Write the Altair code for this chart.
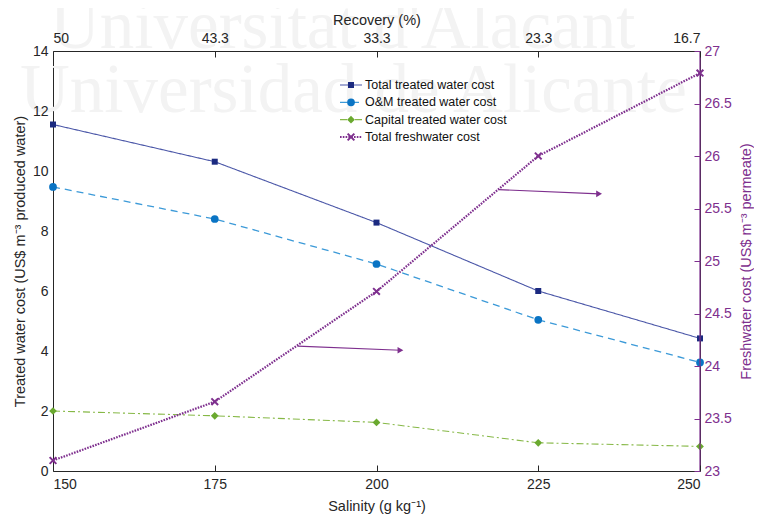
import altair as alt
import pandas as pd

# ---------------- data ----------------
salinity = [150, 175, 200, 225, 250]
recovery = ["50", "43.3", "33.3", "23.3", "16.7"]
total_treated = [11.55, 10.31, 8.28, 6.00, 4.42]
om_treated = [9.47, 8.40, 6.90, 5.04, 3.62]
capital_treated = [2.00, 1.84, 1.62, 0.94, 0.82]
freshwater = [23.10, 23.66, 24.71, 26.00, 26.79]

series_names = [
    "Total treated water cost",
    "O&M treated water cost",
    "Capital treated water cost",
    "Total freshwater cost",
]

# annotation arrows (salinity, freshwater-cost units)
arrow_x = [187.8, 218.9]
arrow_y = [24.19, 25.68]
arrow_x2 = [203.7, 234.4]
arrow_y2 = [24.15, 25.64]

left_ticks = [0, 2, 4, 6, 8, 10, 12, 14]
right_ticks = [23, 23.5, 24, 24.5, 25, 25.5, 26, 26.5, 27]
watermark = ["Universitat d'Alacant", "Universidad de Alicante"]

# ---------------- styles ----------------
PURPLE = "#7E2F8E"
INK = "#262626"
FONT = "Liberation Sans"
XPATH = "M-1,-1L1,1M-1,1L1,-1"
WM = "#F3F3F3"

styles = [
    dict(line="#4B57A8", mark="#1B2A80", dash=[1, 0], width=1.1, shape="square", size=36, filled=True),
    dict(line="#3C9AD8", mark="#0A74C4", dash=[7, 5], width=1.3, shape="circle", size=60, filled=True),
    dict(line="#86B846", mark="#6AA92F", dash=[7, 3, 2, 3], width=1.1, shape="diamond", size=60, filled=True),
    dict(line=PURPLE, mark=PURPLE, dash=[1.6, 1.2], width=2.2, shape=XPATH, size=45, filled=False),
]

xscale = alt.Scale(domain=[150, 250], nice=False, zero=False)
yleft_scale = alt.Scale(domain=[0, 14], nice=False, zero=False)
yright_scale = alt.Scale(domain=[23, 27], nice=False, zero=False)

x_bottom_axis = alt.Axis(
    values=salinity, title="Salinity (g kg⁻¹)", orient="bottom", domain=False,
    tickSize=6, offset=-6, tickColor=INK, labelColor=INK, titleColor=INK,
    labelPadding=6, titlePadding=8, grid=False, format="d", zindex=1,
)
label_expr = ""
for s, r in zip(salinity, recovery):
    label_expr += f"datum.value == {s} ? '{r}' : "
label_expr += "''"
x_top_axis = alt.Axis(
    values=salinity, title="Recovery (%)", orient="top", domain=False,
    tickSize=6, offset=-6, tickColor=INK, labelColor=INK, titleColor=INK,
    labelPadding=6, titlePadding=4, grid=False, labelExpr=label_expr, zindex=1,
)
y_left_axis = alt.Axis(
    values=left_ticks, title="Treated water cost (US$ m⁻³ produced water)", orient="left",
    domain=False, ticks=False, labelColor=INK, titleColor=INK, labelPadding=5,
    titlePadding=5, grid=False, format="d", zindex=1,
)
y_right_axis = alt.Axis(
    values=right_ticks, title="Freshwater cost (US$ m⁻³ permeate)", orient="right",
    domain=False, tickSize=6, offset=-6, tickColor=PURPLE, labelColor=PURPLE,
    titleColor=PURPLE, labelPadding=4, titlePadding=22, grid=False, format="~g",
    titleAngle=270, zindex=1,
)

# ---------------- series layers ----------------
series_values = [total_treated, om_treated, capital_treated]
left_layers = []
for name, vals, st in zip(series_names[:3], series_values, styles[:3]):
    df = pd.DataFrame({"salinity": salinity, "value": vals, "series": name})
    enc = dict(
        x=alt.X("salinity:Q", scale=xscale, axis=x_bottom_axis),
        y=alt.Y("value:Q", scale=yleft_scale, axis=y_left_axis),
    )
    left_layers.append(
        alt.Chart(df).mark_line(color=st["line"], strokeDash=st["dash"], strokeWidth=st["width"]).encode(**enc)
    )
    left_layers.append(
        alt.Chart(df).mark_point(shape=st["shape"], filled=True, color=st["mark"], size=st["size"], opacity=1).encode(**enc)
    )
left_group = alt.layer(*left_layers)

st = styles[3]
df_f = pd.DataFrame({"salinity": salinity, "value": freshwater})
enc_r = dict(
    x=alt.X("salinity:Q", scale=xscale, axis=x_top_axis),
    y=alt.Y("value:Q", scale=yright_scale, axis=y_right_axis),
)
fresh_line = alt.Chart(df_f).mark_line(color=st["line"], strokeDash=st["dash"], strokeWidth=st["width"]).encode(**enc_r)
fresh_pts = alt.Chart(df_f).mark_point(shape=XPATH, filled=False, color=PURPLE, size=st["size"], strokeWidth=2, opacity=1).encode(**enc_r)

df_arrow = pd.DataFrame({"x": arrow_x, "y": arrow_y, "x2": arrow_x2, "y2": arrow_y2})
arrow_lines = alt.Chart(df_arrow).mark_rule(color=PURPLE, strokeWidth=1.2).encode(
    x=alt.X("x:Q", scale=xscale, axis=x_top_axis),
    y=alt.Y("y:Q", scale=yright_scale, axis=y_right_axis),
    x2="x2:Q", y2="y2:Q",
)
arrow_heads = alt.Chart(df_arrow).mark_point(shape="triangle-right", filled=True, color=PURPLE, size=45, opacity=1).encode(
    x=alt.X("x2:Q", scale=xscale, axis=x_top_axis),
    y=alt.Y("y2:Q", scale=yright_scale, axis=y_right_axis),
)
right_frame = alt.Chart(pd.DataFrame({"a": [0]})).mark_rule(color=PURPLE, strokeWidth=1.2).encode(
    x=alt.datum(salinity[-1], scale=xscale, axis=x_top_axis)
)
right_group = alt.layer(right_frame, fresh_line, fresh_pts, arrow_lines, arrow_heads)

# ---------------- legend ----------------
legend_scale = alt.Scale(domain=[0, 3], range=[34, 86])
legend_layers = []
for i, (name, st) in enumerate(zip(series_names, styles)):
    dfl = pd.DataFrame({"row": [i], "series": [name]})
    ly = alt.Y("row:Q", scale=legend_scale, axis=None)
    legend_layers.append(
        alt.Chart(dfl).mark_rule(color=st["line"], strokeDash=st["dash"], strokeWidth=st["width"]).encode(
            x=alt.value(287), x2=alt.value(309), y=ly)
    )
    legend_layers.append(
        alt.Chart(dfl).mark_point(shape=st["shape"], filled=st["filled"], color=st["mark"], size=st["size"],
                                  strokeWidth=2, opacity=1).encode(x=alt.value(298), y=ly)
    )
    legend_layers.append(
        alt.Chart(dfl).mark_text(align="left", baseline="middle", fontSize=12.5, font=FONT, color="#111111").encode(
            x=alt.value(312), y=ly, text="series:N")
    )
legend_group = alt.layer(*legend_layers)

# ---------------- watermark ----------------
wm1 = alt.Chart(pd.DataFrame({"t": [watermark[0]]})).mark_text(
    align="left", baseline="alphabetic", font="Liberation Serif", fontSize=69, color=WM
).encode(x=alt.value(-3), y=alt.value(-3), text="t:N")
wm2 = alt.Chart(pd.DataFrame({"t": [watermark[1]]})).mark_text(
    align="left", baseline="alphabetic", font="Liberation Serif", fontSize=69, color=WM
).encode(x=alt.value(-33), y=alt.value(61), text="t:N")

chart = (
    alt.layer(wm1, wm2, left_group, right_group, legend_group)
    .resolve_scale(y="independent")
    .resolve_axis(x="independent", y="independent")
    .properties(
        width=647, height=420,
        padding={"left": 45, "top": 43, "right": 54, "bottom": 43},
        autosize=alt.AutoSizeParams(type="none"),
    )
    .configure_view(stroke=INK, strokeWidth=1)
    .configure_axis(labelFont=FONT, titleFont=FONT, labelFontSize=14, titleFontSize=14.5,
                    titleFontWeight="normal")
)

chart.save("out.html", embed_options={"renderer": "svg", "actions": False})
